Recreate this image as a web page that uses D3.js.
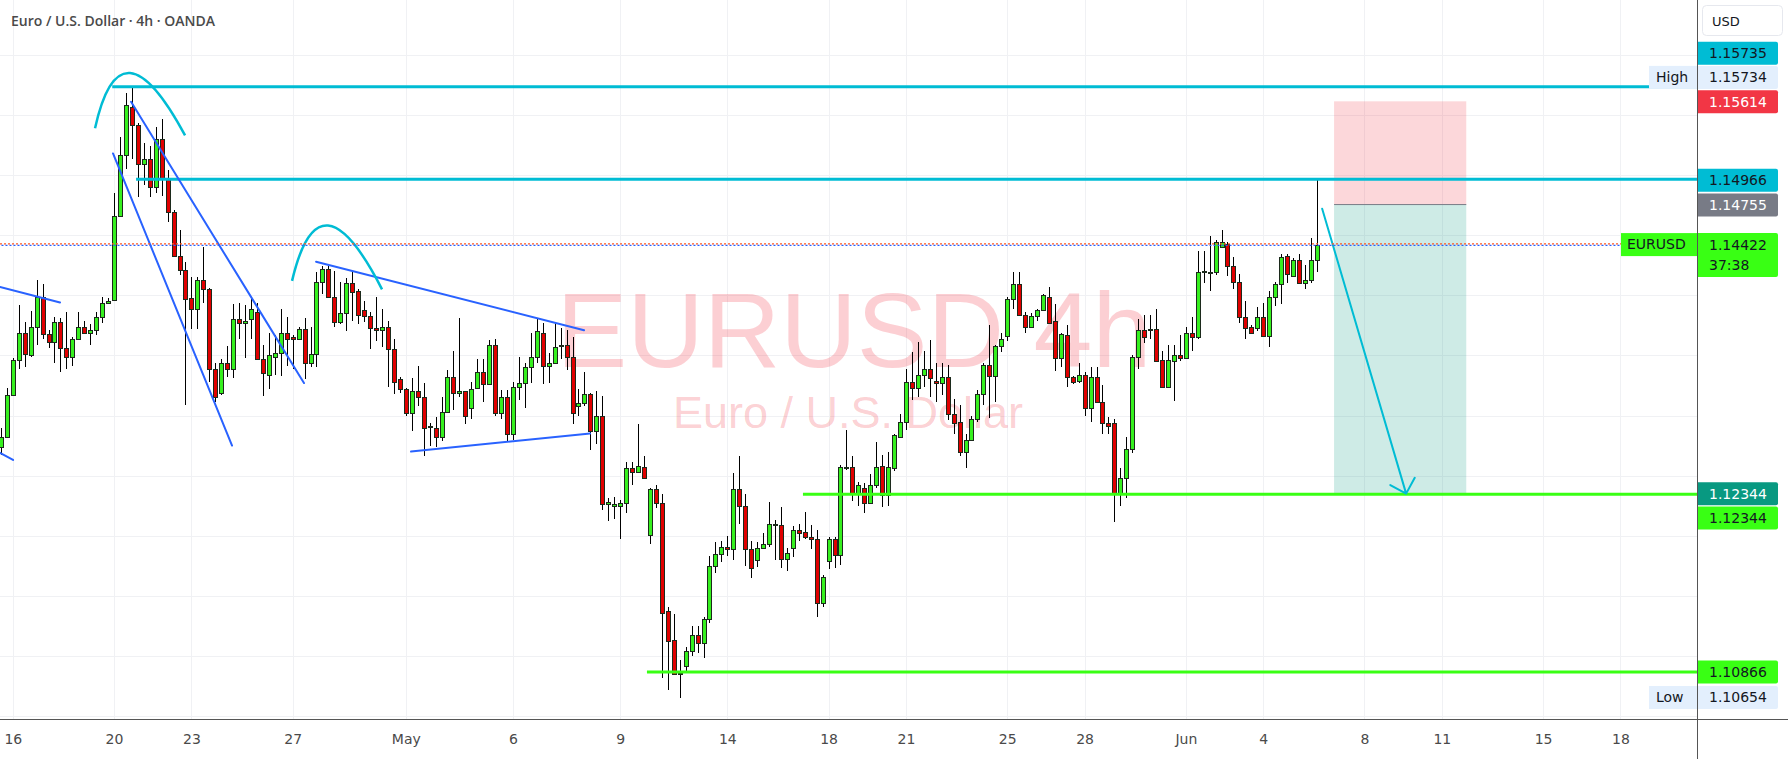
<!DOCTYPE html>
<html>
<head>
<meta charset="utf-8">
<script src="https://cdn.jsdelivr.net/npm/d3@7"></script>
<style>
  body { margin: 0; background: #fff; overflow: hidden; }
  svg { display: block; }
</style>
</head>
<body>
<svg id="chart" width="1788" height="759"></svg>
<script>
// EUR/USD 4h bars (OANDA), Apr 15 - Jun 5
var open = [
  1.1274,1.1282,1.1317,1.1346,1.1369,1.1350,1.1374,1.1399,1.1368,1.1361,
  1.1378,1.1356,1.1349,1.1364,1.1374,1.1369,1.1371,1.1382,1.1394,1.1396,
  1.1466,1.1517,1.1557,1.1542,1.1509,1.1513,1.1490,1.1530,1.1498,1.1469,
  1.1433,1.1421,1.1398,1.1389,1.1413,1.1405,1.1339,1.1319,1.1344,1.1339,
  1.1380,1.1377,1.1380,1.1386,1.1347,1.1334,1.1349,1.1352,1.1369,1.1365,
  1.1364,1.1372,1.1344,1.1351,1.1411,1.1422,1.1399,1.1378,1.1385,1.1410,
  1.1404,1.1388,1.1383,1.1373,1.1371,1.1374,1.1355,1.1330,1.1322,1.1302,
  1.1320,1.1315,1.1291,1.1290,1.1282,1.1303,1.1332,1.1319,1.1320,1.1306,
  1.1323,1.1336,1.1326,1.1359,1.1302,1.1315,1.1285,1.1324,1.1327,1.1340,
  1.1349,1.1369,1.1341,1.1344,1.1358,1.1359,1.1349,1.1308,1.1310,1.1318,
  1.1287,1.1300,1.1226,1.1225,1.1225,1.1227,1.1256,1.1253,1.1257,1.1201,
  1.1239,1.1227,1.1137,1.1113,1.1085,1.1092,1.1104,1.1117,1.1111,1.1131,
  1.1175,1.1185,1.1191,1.1189,1.1239,1.1225,1.1189,1.1180,1.1190,1.1193,
  1.1210,1.1209,1.1181,1.1190,1.1205,1.1203,1.1199,1.1197,1.1144,1.1179,
  1.1197,1.1184,1.1257,1.1257,1.1235,1.1240,1.1227,1.1242,1.1258,1.1234,
  1.1256,1.1282,1.1295,1.1328,1.1323,1.1334,1.1339,1.1329,1.1327,1.1332,
  1.1301,1.1295,1.1270,1.1280,1.1297,1.1318,1.1342,1.1333,1.1358,1.1366,
  1.1397,1.1409,1.1384,1.1374,1.1383,1.1388,1.1399,1.1379,1.1348,1.1367,
  1.1332,1.1329,1.1334,1.1306,1.1332,1.1311,1.1294,1.1294,1.1235,1.1248,
  1.1272,1.1349,1.1371,1.1372,1.1372,1.1346,1.1324,1.1345,1.1350,1.1348,
  1.1369,1.1365,1.1420,1.1419,1.1419,1.1440,1.1443,1.1424,1.1411,1.1382,
  1.1374,1.1373,1.1382,1.1366,1.1399,1.1409,1.1433,1.1416,1.1429,1.1410,
  1.1413,1.1429
];
var high = [
  1.1290,1.1323,1.1348,1.1392,1.1378,1.1387,1.1413,1.1409,1.1371,1.1382,
  1.1381,1.1386,1.1365,1.1386,1.1379,1.1376,1.1386,1.1399,1.1398,1.1485,
  1.1532,1.1568,1.1573,1.1543,1.1527,1.1524,1.1540,1.1547,1.1504,1.1471,
  1.1454,1.1428,1.1415,1.1415,1.1440,1.1406,1.1344,1.1347,1.1358,1.1393,
  1.1394,1.1392,1.1398,1.1394,1.1359,1.1369,1.1367,1.1389,1.1382,1.1367,
  1.1374,1.1381,1.1374,1.1419,1.1424,1.1424,1.1420,1.1411,1.1414,1.1419,
  1.1405,1.1395,1.1386,1.1399,1.1389,1.1379,1.1364,1.1332,1.1323,1.1331,
  1.1341,1.1327,1.1294,1.1299,1.1315,1.1338,1.1354,1.1381,1.1320,1.1328,
  1.1347,1.1347,1.1363,1.1364,1.1321,1.1321,1.1328,1.1349,1.1344,1.1369,
  1.1381,1.1377,1.1352,1.1378,1.1373,1.1371,1.1365,1.1322,1.1336,1.1319,
  1.1320,1.1316,1.1231,1.1232,1.1230,1.1261,1.1261,1.1293,1.1266,1.1240,
  1.1242,1.1235,1.1141,1.1135,1.1097,1.1107,1.1125,1.1125,1.1132,1.1183,
  1.1195,1.1196,1.1200,1.1252,1.1266,1.1235,1.1196,1.1195,1.1202,1.1228,
  1.1213,1.1224,1.1190,1.1208,1.1210,1.1220,1.1209,1.1205,1.1167,1.1199,
  1.1199,1.1259,1.1288,1.1266,1.1245,1.1244,1.1251,1.1278,1.1267,1.1270,
  1.1285,1.1301,1.1339,1.1353,1.1361,1.1354,1.1363,1.1344,1.1344,1.1342,
  1.1314,1.1309,1.1285,1.1300,1.1321,1.1344,1.1375,1.1359,1.1369,1.1399,
  1.1419,1.1419,1.1386,1.1385,1.1389,1.1401,1.1407,1.1393,1.1369,1.1375,
  1.1333,1.1344,1.1336,1.1340,1.1340,1.1325,1.1299,1.1297,1.1256,1.1282,
  1.1350,1.1380,1.1384,1.1384,1.1389,1.1354,1.1359,1.1359,1.1367,1.1374,
  1.1382,1.1437,1.1437,1.1449,1.1446,1.1454,1.1444,1.1432,1.1418,1.1395,
  1.1375,1.1390,1.1394,1.1404,1.1411,1.1434,1.1434,1.1431,1.1434,1.1425,
  1.1448,1.1497
];
var low = [
  1.1267,1.1281,1.1316,1.1339,1.1340,1.1349,1.1359,1.1364,1.1356,1.1344,
  1.1336,1.1339,1.1341,1.1363,1.1369,1.1359,1.1367,1.1377,1.1393,1.1395,
  1.1465,1.1505,1.1513,1.1482,1.1492,1.1482,1.1485,1.1483,1.1461,1.1432,
  1.1417,1.1309,1.1372,1.1372,1.1394,1.1328,1.1311,1.1317,1.1332,1.1331,
  1.1364,1.1348,1.1364,1.1347,1.1316,1.1322,1.1334,1.1333,1.1341,1.1339,
  1.1363,1.1330,1.1340,1.1340,1.1401,1.1399,1.1374,1.1376,1.1370,1.1379,
  1.1376,1.1378,1.1355,1.1362,1.1357,1.1324,1.1318,1.1319,1.1300,1.1287,
  1.1308,1.1266,1.1275,1.1274,1.1279,1.1302,1.1305,1.1315,1.1293,1.1297,
  1.1322,1.1311,1.1325,1.1300,1.1297,1.1279,1.1280,1.1313,1.1306,1.1327,
  1.1344,1.1326,1.1327,1.1343,1.1347,1.1338,1.1293,1.1300,1.1308,1.1271,
  1.1276,1.1221,1.1212,1.1214,1.1197,1.1219,1.1242,1.1252,1.1247,1.1193,
  1.1223,1.1082,1.1072,1.1085,1.1065,1.1087,1.1100,1.1102,1.1098,1.1127,
  1.1169,1.1178,1.1183,1.1180,1.1210,1.1175,1.1165,1.1174,1.1189,1.1191,
  1.1180,1.1173,1.1171,1.1182,1.1196,1.1197,1.1189,1.1132,1.1141,1.1172,
  1.1173,1.1176,1.1255,1.1229,1.1225,1.1219,1.1226,1.1240,1.1224,1.1225,
  1.1254,1.1281,1.1288,1.1313,1.1315,1.1324,1.1315,1.1311,1.1317,1.1296,
  1.1285,1.1266,1.1256,1.1279,1.1295,1.1309,1.1298,1.1311,1.1353,1.1362,
  1.1389,1.1383,1.1369,1.1374,1.1379,1.1387,1.1377,1.1337,1.1340,1.1324,
  1.1326,1.1327,1.1300,1.1295,1.1310,1.1285,1.1285,1.1211,1.1225,1.1231,
  1.1269,1.1339,1.1360,1.1364,1.1345,1.1324,1.1324,1.1312,1.1345,1.1347,
  1.1354,1.1364,1.1410,1.1404,1.1417,1.1439,1.1416,1.1405,1.1377,1.1364,
  1.1369,1.1370,1.1366,1.1357,1.1391,1.1393,1.1410,1.1416,1.1409,1.1405,
  1.1410,1.1419
];
var close = [
  1.1282,1.1317,1.1346,1.1369,1.1351,1.1374,1.1399,1.1368,1.1361,1.1378,
  1.1356,1.1349,1.1364,1.1374,1.1369,1.1371,1.1382,1.1394,1.1395,1.1466,
  1.1517,1.1558,1.1542,1.1509,1.1513,1.1490,1.1530,1.1498,1.1469,1.1433,
  1.1421,1.1397,1.1389,1.1413,1.1405,1.1339,1.1315,1.1344,1.1339,1.1380,
  1.1377,1.1379,1.1389,1.1347,1.1335,1.1350,1.1352,1.1369,1.1364,1.1364,
  1.1372,1.1344,1.1351,1.1411,1.1422,1.1399,1.1378,1.1385,1.1410,1.1403,
  1.1384,1.1383,1.1373,1.1371,1.1374,1.1355,1.1328,1.1322,1.1302,1.1320,
  1.1315,1.1290,1.1291,1.1282,1.1303,1.1332,1.1319,1.1320,1.1300,1.1322,
  1.1336,1.1326,1.1359,1.1302,1.1315,1.1285,1.1324,1.1327,1.1340,1.1349,
  1.1370,1.1341,1.1344,1.1357,1.1359,1.1349,1.1302,1.1310,1.1318,1.1287,
  1.1300,1.1226,1.1228,1.1226,1.1227,1.1256,1.1253,1.1258,1.1248,1.1239,
  1.1227,1.1136,1.1112,1.1085,1.1086,1.1104,1.1117,1.1111,1.1131,1.1175,
  1.1185,1.1191,1.1189,1.1239,1.1225,1.1189,1.1173,1.1190,1.1193,1.1210,
  1.1209,1.1181,1.1186,1.1205,1.1202,1.1199,1.1197,1.1144,1.1166,1.1197,
  1.1184,1.1257,1.1256,1.1235,1.1242,1.1227,1.1242,1.1257,1.1234,1.1257,
  1.1284,1.1295,1.1328,1.1323,1.1334,1.1339,1.1331,1.1327,1.1332,1.1301,
  1.1294,1.1270,1.1280,1.1297,1.1318,1.1342,1.1333,1.1358,1.1364,1.1397,
  1.1409,1.1384,1.1374,1.1383,1.1388,1.1400,1.1377,1.1348,1.1368,1.1332,
  1.1328,1.1334,1.1306,1.1332,1.1311,1.1294,1.1291,1.1235,1.1248,1.1272,
  1.1349,1.1371,1.1365,1.1372,1.1345,1.1324,1.1346,1.1350,1.1348,1.1369,
  1.1365,1.1419,1.1419,1.1419,1.1444,1.1444,1.1424,1.1411,1.1382,1.1373,
  1.1369,1.1382,1.1366,1.1399,1.1409,1.1432,1.1418,1.1429,1.1410,1.1413,
  1.1429,1.14422
];

// time axis: [bar index, label]
var dateTicks = [[2,'16'],[19,'20'],[32,'23'],[49,'27'],[68,'May'],[86,'6'],[104,'9'],
  [122,'14'],[139,'18'],[152,'21'],[169,'25'],[182,'28'],[199,'Jun'],[212,'4'],
  [229,'8'],[242,'11'],[259,'15'],[272,'18']];
var priceTicks = [1.105,1.110,1.115,1.120,1.125,1.130,1.135,1.140,1.145,1.150,1.155,1.160];

// drawings (bar index, price)
var levels = [1.15735, 1.14966, 1.12344, 1.10866];
var levelFrom = [18.7, 22.7, 134.7, 108.5];
var trendLines = [
  [-0.15,1.1407, 9.93,1.1394],
  [-0.15,1.1269, 2.04,1.1263],
  [21.86,1.1561, 50.9,1.1327],
  [18.83,1.1518, 38.82,1.1275],
  [52.93,1.1428, 97.94,1.1371],
  [68.88,1.1270, 98.95,1.1285]
];
// arcs: start, top, end
var arcs = [
  [15.81,1.1539, 21.69,1.1585, 30.93,1.1533],
  [48.9,1.1412, 54.94,1.1458, 64.01,1.1405]
];
var shortFrom = 223.9, shortTo = 246.1;
var entry = 1.14755, stop = 1.15614, target = 1.12344;
var arrow = [221.9, 1.1472, 236.0, 1.1235];
var lastPrice = 1.14422, countdown = '37:38';
var tagValues = [1.15735, 1.15734, 1.15614, 1.14966, 1.14755, 1.12344, 1.12344, 1.10866, 1.10654];

var W = 1788, H = 759, PR = 1697, PB = 719;
var svg = d3.select('#chart');

var x = d3.scaleLinear().domain([-0.15, 284.85]).range([0, PR]);
var y = d3.scaleLinear().domain([1.10475, 1.16457]).range([PB, 0]);

svg.append('defs').append('clipPath').attr('id', 'pane')
  .append('rect').attr('width', PR).attr('height', PB);

var pane = svg.append('g').attr('clip-path', 'url(#pane)');

// grid
pane.append('g').selectAll('line').data(priceTicks).join('line')
  .attr('x1', 0).attr('x2', PR)
  .attr('y1', d => Math.round(y(d)) + 0.5).attr('y2', d => Math.round(y(d)) + 0.5)
  .attr('stroke', '#f0f1f4');
pane.append('g').selectAll('line').data(dateTicks).join('line')
  .attr('y1', 0).attr('y2', PB)
  .attr('x1', d => Math.round(x(d[0])) + 0.5).attr('x2', d => Math.round(x(d[0])) + 0.5)
  .attr('stroke', '#f0f1f4');

// watermark
pane.append('text')
  .attr('x', 854).attr('y', 367)
  .attr('text-anchor', 'middle')
  .style('font', '106px "Liberation Sans", Arial, sans-serif')
  .attr('fill', '#f23645').attr('fill-opacity', 0.24)
  .text('EURUSD 4h');
pane.append('text')
  .attr('x', 848).attr('y', 428)
  .attr('text-anchor', 'middle')
  .style('font', '45px "Liberation Sans", Arial, sans-serif')
  .attr('fill', '#f23645').attr('fill-opacity', 0.24)
  .text('Euro / U.S. Dollar');

// short position box
pane.append('rect')
  .attr('x', x(shortFrom)).attr('width', x(shortTo) - x(shortFrom))
  .attr('y', y(stop)).attr('height', y(entry) - y(stop))
  .attr('fill', '#f23645').attr('fill-opacity', 0.2);
pane.append('rect')
  .attr('x', x(shortFrom)).attr('width', x(shortTo) - x(shortFrom))
  .attr('y', y(entry)).attr('height', y(target) - y(entry))
  .attr('fill', '#089981').attr('fill-opacity', 0.2);
pane.append('line')
  .attr('x1', x(shortFrom)).attr('x2', x(shortTo))
  .attr('y1', y(entry)).attr('y2', y(entry))
  .attr('stroke', '#787b86').attr('stroke-width', 1);

// candles
var bars = d3.range(close.length).map(i => ({i: i, o: open[i], h: high[i], l: low[i], c: close[i]}));
var cg = pane.append('g').attr('shape-rendering', 'crispEdges');
var candle = cg.selectAll('g').data(bars).join('g');
candle.append('rect')
  .attr('x', d => Math.round(x(d.i)))
  .attr('width', 1)
  .attr('y', d => Math.round(y(d.h)))
  .attr('height', d => Math.max(1, Math.round(y(d.l)) - Math.round(y(d.h))))
  .attr('fill', '#000');
candle.append('rect')
  .attr('x', d => Math.round(x(d.i)) - 1.5)
  .attr('width', 4)
  .attr('y', d => Math.round(y(Math.max(d.o, d.c))) + 0.5)
  .attr('height', d => Math.max(1, Math.round(y(Math.min(d.o, d.c))) - Math.round(y(Math.max(d.o, d.c)))))
  .attr('fill', d => d.c >= d.o ? '#36f01f' : '#e00000')
  .attr('stroke', '#1c2a1c').attr('stroke-width', 1);

// horizontal levels
var levelColor = ['#00bcd4', '#00bcd4', '#39ff14', '#39ff14'];
pane.append('g').selectAll('line').data(levels).join('line')
  .attr('x1', (d, i) => x(levelFrom[i])).attr('x2', PR)
  .attr('y1', d => y(d)).attr('y2', d => y(d))
  .attr('stroke', (d, i) => levelColor[i]).attr('stroke-width', 3);

// trend lines
pane.append('g').selectAll('line').data(trendLines).join('line')
  .attr('x1', d => x(d[0])).attr('y1', d => y(d[1]))
  .attr('x2', d => x(d[2])).attr('y2', d => y(d[3]))
  .attr('stroke', '#2962ff').attr('stroke-width', 2).attr('stroke-linecap', 'round');

// arcs
pane.append('g').selectAll('path').data(arcs).join('path')
  .attr('d', d => {
    var x0 = x(d[0]), y0 = y(d[1]), xm = x(d[2]), ym = y(d[3]), x2 = x(d[4]), y2 = y(d[5]);
    var p = d3.path();
    p.moveTo(x0, y0);
    p.quadraticCurveTo(2 * xm - (x0 + x2) / 2, 2 * ym - (y0 + y2) / 2, x2, y2);
    return p.toString();
  })
  .attr('fill', 'none').attr('stroke', '#00bcd4').attr('stroke-width', 2.5);

// arrow
var ax0 = x(arrow[0]), ay0 = y(arrow[1]), ax1 = x(arrow[2]), ay1 = y(arrow[3]);
var ang = Math.atan2(ay1 - ay0, ax1 - ax0);
var ap = d3.path();
ap.moveTo(ax0, ay0); ap.lineTo(ax1, ay1);
[-1, 1].forEach(s => {
  ap.moveTo(ax1, ay1);
  ap.lineTo(ax1 - 18 * Math.cos(ang + s * Math.PI / 4), ay1 - 18 * Math.sin(ang + s * Math.PI / 4));
});
pane.append('path').attr('d', ap.toString())
  .attr('fill', 'none').attr('stroke', '#00bcd4').attr('stroke-width', 2).attr('stroke-linecap', 'round');

// last price dotted line
var ly = y(lastPrice);
pane.append('line').attr('x1', 0).attr('x2', PR).attr('y1', ly - 0.8).attr('y2', ly - 0.8)
  .attr('stroke', '#ff5722').attr('stroke-width', 1.3).attr('stroke-dasharray', '2,2');
pane.append('line').attr('x1', 1.5).attr('x2', PR).attr('y1', ly + 0.8).attr('y2', ly + 0.8)
  .attr('stroke', '#2962ff').attr('stroke-width', 1.3).attr('stroke-dasharray', '2,2');

// title
svg.append('text')
  .attr('x', 11).attr('y', 21).attr('dy', '0.35em')
  .style('font', '600 14px "Open Sans", sans-serif')
  .attr('fill', '#4a4a4a')
  .text('Euro / U.S. Dollar \u00b7 4h \u00b7 OANDA');

// axis price tags (drawn over the scale labels)
var tagBg = ['#00bcd4', '#e3effd', '#f23645', '#00bcd4', '#787b86', '#089981', '#39ff14', '#39ff14', '#e3effd'];
var tagFg = ['#131722', '#131722', '#fff', '#131722', '#fff', '#fff', '#131722', '#131722', '#131722'];
var tagShift = [-33.6, -9.5, 0.5, 1, 0.5, -0.5, 23.6, 0, 0];
var tagName = [null, 'High', null, null, null, null, null, null, 'Low'];
var tagY = tagValues.map((v, i) => y(v) + tagShift[i]);

// price axis: scale labels that sit fully under a tag are not shown
svg.append('defs').append('clipPath').attr('id', 'paxis')
  .append('rect').attr('x', PR).attr('width', W - PR).attr('height', PB);
var shownTicks = priceTicks.filter(p => tagY.every(t => Math.abs(t - y(p)) > 8));
var yAxis = svg.append('g')
  .attr('clip-path', 'url(#paxis)')
  .attr('transform', `translate(${PR},0)`)
  .call(d3.axisRight(y).tickValues(shownTicks).tickFormat(d3.format('.5f')).tickSize(0));
yAxis.select('.domain').remove();
yAxis.selectAll('text')
  .attr('x', 11).attr('dy', '0.35em')
  .style('font', '14px "DejaVu Sans", sans-serif')
  .attr('fill', '#555');

// time axis
var xAxis = svg.append('g')
  .attr('transform', `translate(0,${PB})`)
  .call(d3.axisBottom(x).tickValues(dateTicks.map(d => d[0]))
    .tickFormat((d, i) => dateTicks[i][1]).tickSize(0));
xAxis.select('.domain').remove();
xAxis.selectAll('text')
  .attr('y', 20).attr('dy', '0.35em')
  .style('font', '14px "DejaVu Sans", sans-serif')
  .attr('fill', '#4a4a4a');

// frame lines
svg.append('line').attr('x1', 0).attr('x2', W).attr('y1', PB + 0.5).attr('y2', PB + 0.5)
  .attr('stroke', '#555');
svg.append('line').attr('x1', PR + 0.5).attr('x2', PR + 0.5).attr('y1', 0).attr('y2', H)
  .attr('stroke', '#555');

// currency box
svg.append('rect').attr('x', 1702.5).attr('y', 5.5).attr('width', 80).attr('height', 30).attr('rx', 4)
  .attr('fill', '#fff').attr('stroke', '#e6e8ee');
svg.append('text').attr('x', 1712).attr('y', 21).attr('dy', '0.35em')
  .style('font', '13px "DejaVu Sans", sans-serif').attr('fill', '#131722').text('USD');

var tags = svg.append('g');
tagValues.forEach((v, i) => {
  var cy = tagY[i];
  if (tagName[i]) {
    tags.append('rect').attr('x', PR - 48).attr('y', cy - 11.5).attr('width', 48).attr('height', 23)
      .attr('fill', tagBg[i]);
    tags.append('text').attr('x', PR - 41).attr('y', cy).attr('dy', '0.35em')
      .style('font', '14px "DejaVu Sans", sans-serif').attr('fill', '#131722').text(tagName[i]);
  }
  tags.append('path')
    .attr('d', `M${PR + 1},${cy - 11.5}h78a2,2 0 0 1 2,2v19a2,2 0 0 1 -2,2h-78z`)
    .attr('fill', tagBg[i]);
  tags.append('text').attr('x', 1709).attr('y', cy).attr('dy', '0.35em')
    .style('font', '14px "DejaVu Sans", sans-serif').attr('fill', tagFg[i])
    .text(d3.format('.5f')(v));
});

// last price tag with countdown
tags.append('rect').attr('x', PR - 76).attr('y', ly - 11.5).attr('width', 76).attr('height', 23)
  .attr('fill', '#39ff14');
tags.append('text').attr('x', PR - 70).attr('y', ly).attr('dy', '0.35em')
  .style('font', '14px "DejaVu Sans", sans-serif').attr('fill', '#131722').text('EURUSD');
tags.append('path')
  .attr('d', `M${PR + 1},${ly - 11.5}h78a2,2 0 0 1 2,2v40a2,2 0 0 1 -2,2h-78z`)
  .attr('fill', '#39ff14');
tags.append('text').attr('x', 1709).attr('y', ly + 1).attr('dy', '0.35em')
  .style('font', '14px "DejaVu Sans", sans-serif').attr('fill', '#131722').text(d3.format('.5f')(lastPrice));
tags.append('text').attr('x', 1709).attr('y', ly + 21).attr('dy', '0.35em')
  .style('font', '14px "DejaVu Sans", sans-serif').attr('fill', '#131722').text(countdown);
</script>
</body>
</html>
